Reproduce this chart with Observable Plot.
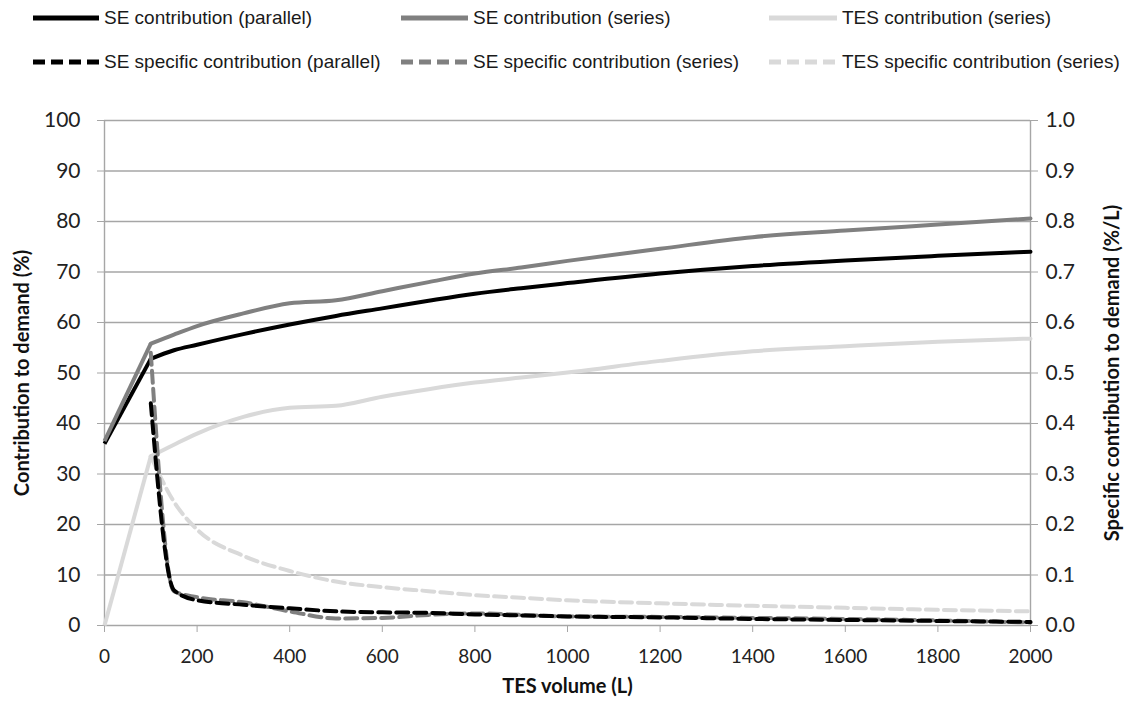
<!DOCTYPE html>
<html><head><meta charset="utf-8">
<script src="https://cdn.jsdelivr.net/npm/d3@7"></script>
<script src="https://cdn.jsdelivr.net/npm/@observablehq/plot@0.6"></script>
<style>
body{margin:0;background:#fff;}
#wrap{position:relative;width:1131px;height:711px;overflow:hidden;background:#fff;}
#legend{position:absolute;left:0;top:0;width:1131px;height:90px;font-family:"Liberation Sans Narrow","Liberation Sans",sans-serif;font-size:19px;color:#1a1a1a;}
.item{position:absolute;height:26px;display:flex;align-items:center;white-space:nowrap;}
.item svg{margin-right:5px;display:block;}
#chart{position:absolute;left:0;top:90px;}
</style></head><body>
<div id="wrap"><div id="legend"></div><div id="chart"></div></div>
<script>
// TES volume (L)
const volume = [0,100,150,200,300,400,500,600,700,800,900,1000,1200,1400,1600,1800,2000];
// Contribution to demand (%)
const seParallel = [36.0,52.8,54.5,55.6,57.7,59.6,61.3,62.8,64.3,65.7,66.8,67.8,69.7,71.2,72.3,73.2,74.0];
const seSeries   = [36.5,55.8,57.6,59.3,61.8,63.8,64.4,66.2,68.0,69.7,70.9,72.2,74.6,76.9,78.2,79.4,80.6];
const tesSeries  = [0.0,33.5,35.8,38.0,41.3,43.1,43.5,45.3,46.8,48.1,49.1,50.1,52.4,54.3,55.3,56.2,56.8];
// Specific contribution to demand (%/L)
const seParallelSpec = [null,0.44,0.07,0.05,0.041,0.034,0.028,0.026,0.025,0.022,0.020,0.018,0.016,0.013,0.011,0.009,0.007];
const seSeriesSpec   = [null,0.54,0.068,0.056,0.046,0.028,0.014,0.015,0.021,0.024,0.021,0.018,0.017,0.015,0.013,0.010,0.006];
const tesSeriesSpec  = [null,0.335,0.245,0.19,0.138,0.108,0.087,0.076,0.068,0.06,0.055,0.05,0.044,0.039,0.035,0.031,0.028];

const xTicks = [0,200,400,600,800,1000,1200,1400,1600,1800,2000];
const yTicks = [0,10,20,30,40,50,60,70,80,90,100];
const rightTickLabels = ["0.0","0.1","0.2","0.3","0.4","0.5","0.6","0.7","0.8","0.9","1.0"];

const seriesNames = [
  "SE contribution (parallel)","SE contribution (series)","TES contribution (series)",
  "SE specific contribution (parallel)","SE specific contribution (series)","TES specific contribution (series)"
];
const seriesColors = ["#000000","#808080","#d9d9d9","#000000","#808080","#d9d9d9"];

const BLACK = seriesColors[0], GRAY = seriesColors[1], LIGHT = seriesColors[2];
const GRID = "#a6a6a6";
const DASH = "12,6";

function rows(values){
  return volume.map((v,i)=>({volume:v, value:values[i]})).filter(d=>d.value!=null);
}

// Legend
const legendPos = [
  {x:33,y:18,w:66},{x:401,y:18,w:67},{x:769,y:18,w:68},
  {x:33,y:62,w:66},{x:401,y:62,w:67},{x:769,y:62,w:68}
];
const legend = document.getElementById("legend");
seriesNames.forEach((name,i)=>{
  const p = legendPos[i];
  const div = document.createElement("div");
  div.className = "item";
  div.style.left = p.x + "px";
  div.style.top = (p.y - 13) + "px";
  const dashed = i >= 3;
  div.innerHTML = `<svg width="${p.w}" height="10"><line x1="0" x2="${p.w}" y1="5" y2="5" stroke="${seriesColors[i]}" stroke-width="5" ${dashed ? 'stroke-dasharray="12,6"' : ''}/></svg><span>${name}</span>`;
  legend.appendChild(div);
});

// Solid series: straight rise up to 100 L, smoothed afterwards
function solidMarks(values, stroke){
  const r = rows(values);
  return [
    Plot.line(r.filter(d=>d.volume<=100),{x:"volume", y:"value", curve:"linear", strokeWidth:4, stroke, strokeLinecap:"butt"}),
    Plot.line(r.filter(d=>d.volume>=100),{x:"volume", y:"value", curve:"monotone-x", strokeWidth:4, stroke, strokeLinecap:"round"})
  ];
}
const specOpts = {x:"volume", y:d=>d.value*100, curve:"monotone-x", strokeWidth:4, strokeDasharray:DASH};

const chart = Plot.plot({
  width:1131, height:621,
  marginLeft:104, marginRight:101, marginTop:30, marginBottom:86,
  style:{fontFamily:"Lato, 'Open Sans', sans-serif", fontSize:"20px", color:"#222", background:"#fff"},
  x:{domain:[0,2000]},
  y:{domain:[0,100]},
  marks:[
    Plot.gridY(yTicks,{stroke:GRID, strokeOpacity:1, strokeWidth:1.4}),
    Plot.ruleX([0,2000],{stroke:GRID, strokeWidth:1.4}),
    Plot.axisY(yTicks,{anchor:"left", tickSize:7, tickPadding:17, stroke:GRID, strokeOpacity:1, fill:"#222", label:null, fontSize:21,
      tickFormat:d=>String(d)}),
    Plot.axisY(yTicks,{anchor:"right", tickSize:7, tickPadding:8, stroke:GRID, strokeOpacity:1, fill:"#222", label:null, fontSize:21,
      tickFormat:d=>rightTickLabels[yTicks.indexOf(d)]}),
    Plot.axisX(xTicks,{anchor:"bottom", tickSize:7, tickPadding:17, stroke:GRID, strokeOpacity:1, fill:"#222", label:null, fontSize:19,
      tickFormat:d=>String(d)}),
    ...solidMarks(seParallel, BLACK),
    ...solidMarks(seSeries, GRAY),
    ...solidMarks(tesSeries, LIGHT),
    Plot.line(rows(tesSeriesSpec),{...specOpts, stroke:LIGHT}),
    Plot.line(rows(seSeriesSpec),{...specOpts, stroke:GRAY}),
    Plot.line(rows(seParallelSpec),{...specOpts, stroke:BLACK}),
    Plot.text(["Contribution to demand (%)"],{text:d=>d, frameAnchor:"left", textAnchor:"middle", dx:-82, rotate:-90, fontWeight:"bold", fontSize:20, fill:"#111"}),
    Plot.text(["Specific contribution to demand (%/L)"],{text:d=>d, frameAnchor:"right", textAnchor:"middle", dx:82, rotate:-90, fontWeight:"bold", fontSize:20, fill:"#111"}),
    Plot.text(["TES volume (L)"],{text:d=>d, frameAnchor:"bottom", textAnchor:"middle", dy:67, fontWeight:"bold", fontSize:20, fill:"#111"})
  ]
});
document.getElementById("chart").appendChild(chart);
</script>
</body></html>
